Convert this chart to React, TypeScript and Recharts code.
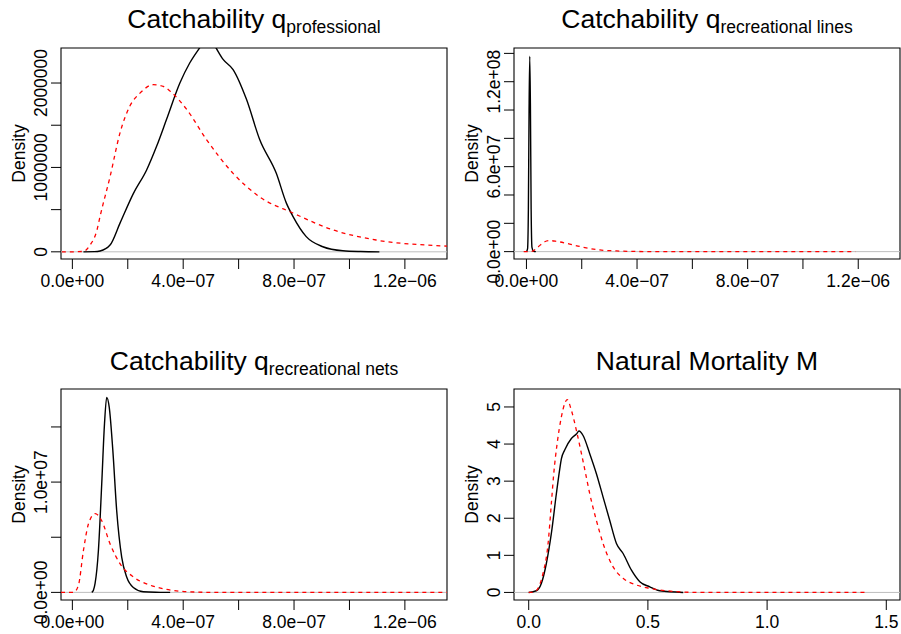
import React from 'react';
import { LineChart, Line, XAxis, YAxis, ReferenceLine, ReferenceArea } from 'recharts';

// panel 1: catchability q professional
const profPostX = [0.04e-6, 0.08e-6, 0.1e-6, 0.136e-6, 0.172e-6, 0.22e-6, 0.268e-6, 0.304e-6, 0.34e-6, 0.388e-6, 0.424e-6, 0.46e-6, 0.49e-6, 0.514e-6, 0.544e-6, 0.58e-6, 0.628e-6, 0.676e-6, 0.736e-6, 0.772e-6, 0.796e-6, 0.844e-6, 0.904e-6, 0.976e-6, 1.04e-6, 1.108e-6];
const profPostY = [0, 0.002e6, 0.01e6, 0.08e6, 0.34e6, 0.69e6, 0.97e6, 1.25e6, 1.57e6, 2.0e6, 2.24e6, 2.42e6, 2.56e6, 2.44e6, 2.28e6, 2.16e6, 1.81e6, 1.33e6, 0.93e6, 0.58e6, 0.42e6, 0.18e6, 0.06e6, 0.012e6, 0.003e6, 0];
const profPriorX = [-0.038e-6, 0, 0.04e-6, 0.064e-6, 0.089e-6, 0.1e-6, 0.136e-6, 0.172e-6, 0.208e-6, 0.244e-6, 0.292e-6, 0.328e-6, 0.364e-6, 0.412e-6, 0.484e-6, 0.58e-6, 0.676e-6, 0.796e-6, 0.94e-6, 1.096e-6, 1.336e-6, 1.4e-6];
const profPriorY = [0, 0, 0.005e6, 0.08e6, 0.26e6, 0.42e6, 0.89e6, 1.41e6, 1.73e6, 1.88e6, 1.98e6, 1.96e6, 1.87e6, 1.69e6, 1.33e6, 0.93e6, 0.65e6, 0.46e6, 0.26e6, 0.14e6, 0.07e6, 0.06e6];

// panel 2: catchability q recreational lines
const linesPostX = [0, 0.004e-6, 0.007e-6, 0.0095e-6, 0.012e-6, 0.0145e-6, 0.017e-6, 0.02e-6, 0.026e-6, 0.034e-6];
const linesPostY = [0, 0.02e8, 0.3e8, 1.0e8, 1.38e8, 1.0e8, 0.3e8, 0.03e8, 0.002e8, 0];
const linesPriorX = [-0.01e-6, 0.01e-6, 0.02e-6, 0.04e-6, 0.066e-6, 0.084e-6, 0.11e-6, 0.145e-6, 0.205e-6, 0.265e-6, 0.326e-6, 0.4e-6, 0.5e-6, 1.19e-6];
const linesPriorY = [0, 0, 0.02e7, 0.3e7, 0.7e7, 0.78e7, 0.72e7, 0.59e7, 0.31e7, 0.12e7, 0.05e7, 0.01e7, 0, 0];

// panel 3: catchability q recreational nets
const netsPostX = [0.07e-6, 0.076e-6, 0.082e-6, 0.094e-6, 0.106e-6, 0.116e-6, 0.124e-6, 0.133e-6, 0.146e-6, 0.16e-6, 0.178e-6, 0.196e-6, 0.22e-6, 0.256e-6, 0.3e-6, 0.353e-6];
const netsPostY = [0, 0.02e7, 0.081e7, 0.38e7, 0.985e7, 1.53e7, 1.768e7, 1.68e7, 1.29e7, 0.74e7, 0.32e7, 0.14e7, 0.045e7, 0.006e7, 0.001e7, 0];
const netsPriorX = [-0.041e-6, 0.005e-6, 0.022e-6, 0.04e-6, 0.058e-6, 0.082e-6, 0.106e-6, 0.136e-6, 0.172e-6, 0.22e-6, 0.28e-6, 0.34e-6, 0.413e-6, 0.52e-6, 1.36e-6];
const netsPriorY = [0, 0, 0.066e7, 0.38e7, 0.62e7, 0.714e7, 0.65e7, 0.44e7, 0.26e7, 0.14e7, 0.066e7, 0.027e7, 0.006e7, 0, 0];

// panel 4: natural mortality M
const mPostX = [0, 0.032, 0.053, 0.074, 0.095, 0.116, 0.13, 0.137, 0.151, 0.179, 0.2, 0.211, 0.228, 0.256, 0.284, 0.312, 0.34, 0.368, 0.396, 0.431, 0.466, 0.508, 0.55, 0.648];
const mPostY = [0, 0.045, 0.24, 0.78, 1.59, 2.66, 3.32, 3.6, 3.84, 4.15, 4.27, 4.35, 4.23, 3.74, 3.2, 2.57, 1.94, 1.32, 1.05, 0.6, 0.29, 0.15, 0.045, 0];
const mPriorX = [0, 0.025, 0.039, 0.06, 0.081, 0.095, 0.105, 0.119, 0.137, 0.151, 0.161, 0.179, 0.2, 0.221, 0.235, 0.256, 0.284, 0.312, 0.354, 0.396, 0.452, 0.508, 0.578, 0.718, 1.418];
const mPriorY = [0, 0.02, 0.11, 0.51, 1.3, 2.4, 3.2, 4.0, 4.73, 5.09, 5.2, 4.91, 4.37, 3.75, 3.32, 2.66, 1.94, 1.32, 0.69, 0.38, 0.2, 0.11, 0.045, 0, 0];

// ticks
const qTicks = [0, 2e-7, 4e-7, 6e-7, 8e-7, 1e-6, 1.2e-6];
const qTickLabels = ['0.0e+00', '', '4.0e\u221207', '', '8.0e\u221207', '', '1.2e\u221206'];
const mTicks = [0, 0.5, 1, 1.5];
const mTickLabels = ['0.0', '0.5', '1.0', '1.5'];
const profYTicks = [0, 5e5, 1e6, 1.5e6, 2e6];
const profYLabels = ['0', '', '1000000', '', '2000000'];
const linesYTicks = [0, 2e7, 4e7, 6e7, 8e7, 1e8, 1.2e8, 1.4e8];
const linesYLabels = ['0.0e+00', '', '', '6.0e+07', '', '', '1.2e+08', ''];
const netsYTicks = [0, 5e6, 1e7, 1.5e7];
const netsYLabels = ['0.0e+00', '', '1.0e+07', ''];
const mYTicks = [0, 1, 2, 3, 4, 5];
const mYLabels = ['0', '1', '2', '3', '4', '5'];

const toPts = (xs: number[], ys: number[]) => xs.map((x, i) => ({ x, y: ys[i] }));

const FONT = '"Liberation Sans", Arial, Helvetica, sans-serif';
const LABEL_SIZE = 17.5;

const XTick = (labels: string[]) => (props: any) => {
  const { x, y, index } = props;
  const t = labels[index];
  if (!t) return <g />;
  return (
    <text x={x} y={y + 14} textAnchor="middle" fontSize={LABEL_SIZE} fontFamily={FONT} fill="#000">{t}</text>
  );
};

const YTick = (labels: string[]) => (props: any) => {
  const { x, y, index } = props;
  const t = labels[index];
  if (!t) return <g />;
  return (
    <text transform={`translate(${x},${y}) rotate(-90)`} textAnchor="middle" fontSize={LABEL_SIZE} fontFamily={FONT} fill="#000">{t}</text>
  );
};

const DensityLabel = (props: any) => {
  const vb = props.viewBox || { x: 0, y: 0, width: 0, height: 0 };
  const x = vb.x + vb.width - 36;
  const y = vb.y + vb.height / 2;
  return (
    <text transform={`translate(${x},${y}) rotate(-90)`} textAnchor="middle" fontSize={LABEL_SIZE} fontFamily={FONT} fill="#000">Density</text>
  );
};

interface PanelProps {
  left: number;
  top: number;
  width: number;
  height: number;
  margin: { top: number; right: number; bottom: number; left: number };
  yWidth: number;
  xHeight: number;
  xDomain: [number, number];
  yDomain: [number, number];
  xTicks: number[];
  xLabels: string[];
  yTicks: number[];
  yLabels: string[];
  post: { x: number; y: number }[];
  prior: { x: number; y: number }[];
}

const Panel = (p: PanelProps) => (
  <div style={{ position: 'absolute', left: p.left, top: p.top }}>
    <LineChart width={p.width} height={p.height} margin={p.margin}>
      <XAxis
        type="number"
        dataKey="x"
        domain={p.xDomain}
        allowDataOverflow
        ticks={p.xTicks}
        interval={0}
        height={p.xHeight}
        axisLine={false}
        tickLine={{ stroke: '#000', strokeWidth: 1 }}
        tickSize={10}
        tickMargin={4}
        tick={XTick(p.xLabels)}
      />
      <YAxis
        type="number"
        dataKey="y"
        domain={p.yDomain}
        allowDataOverflow
        ticks={p.yTicks}
        interval={0}
        width={p.yWidth}
        axisLine={false}
        tickLine={{ stroke: '#000', strokeWidth: 1 }}
        tickSize={10}
        tickMargin={4}
        tick={YTick(p.yLabels)}
        label={<DensityLabel />}
      />
      <ReferenceArea
        x1={p.xDomain[0]}
        x2={p.xDomain[1]}
        y1={p.yDomain[0]}
        y2={p.yDomain[1]}
        fill="none"
        stroke="#000"
        strokeWidth={1.1}
        fillOpacity={0}
        ifOverflow="visible"
      />
      <ReferenceLine y={0} stroke="#bebebe" strokeWidth={1} />
      <Line
        data={p.post}
        dataKey="y"
        type="monotone"
        stroke="#000"
        strokeWidth={1.4}
        dot={false}
        activeDot={false}
        isAnimationActive={false}
      />
      <Line
        data={p.prior}
        dataKey="y"
        type="monotone"
        stroke="#ff0000"
        strokeWidth={1.3}
        strokeDasharray="4 4"
        dot={false}
        activeDot={false}
        isAnimationActive={false}
      />
    </LineChart>
  </div>
);

const Title = ({ x, y, main, sub }: { x: number; y: number; main: string; sub?: string }) => (
  <text x={x} y={y} textAnchor="middle" fontSize={26.5} fontFamily={FONT} fill="#000">
    {main}
    {sub ? <tspan fontSize={17.5} dy={5}>{sub}</tspan> : null}
  </text>
);

export default function App() {
  return (
    <div style={{ position: 'absolute', left: 0, top: 0, width: 901, height: 634, background: '#fff', overflow: 'hidden' }}>
      <Panel
        left={0} top={0} width={450} height={317}
        margin={{ top: 48, right: 3, bottom: 0, left: 0 }}
        yWidth={61} xHeight={58}
        xDomain={[-0.041e-6, 1.352e-6]} yDomain={[-0.085e6, 2.415e6]}
        xTicks={qTicks} xLabels={qTickLabels}
        yTicks={profYTicks} yLabels={profYLabels}
        post={toPts(profPostX, profPostY)} prior={toPts(profPriorX, profPriorY)}
      />
      <Panel
        left={450} top={0} width={451} height={317}
        margin={{ top: 48, right: 1, bottom: 0, left: 0 }}
        yWidth={64} xHeight={58}
        xDomain={[-0.045e-6, 1.351e-6]} yDomain={[-0.052e8, 1.438e8]}
        xTicks={qTicks} xLabels={qTickLabels}
        yTicks={linesYTicks} yLabels={linesYLabels}
        post={toPts(linesPostX, linesPostY)} prior={toPts(linesPriorX, linesPriorY)}
      />
      <Panel
        left={0} top={317} width={450} height={317}
        margin={{ top: 72, right: 3, bottom: 0, left: 0 }}
        yWidth={61} xHeight={34}
        xDomain={[-0.041e-6, 1.352e-6]} yDomain={[-0.069e7, 1.844e7]}
        xTicks={qTicks} xLabels={qTickLabels}
        yTicks={netsYTicks} yLabels={netsYLabels}
        post={toPts(netsPostX, netsPostY)} prior={toPts(netsPriorX, netsPriorY)}
      />
      <Panel
        left={450} top={317} width={451} height={317}
        margin={{ top: 72, right: 1, bottom: 0, left: 0 }}
        yWidth={64} xHeight={34}
        xDomain={[-0.0617, 1.5575]} yDomain={[-0.204, 5.484]}
        xTicks={mTicks} xLabels={mTickLabels}
        yTicks={mYTicks} yLabels={mYLabels}
        post={toPts(mPostX, mPostY)} prior={toPts(mPriorX, mPriorY)}
      />
      <svg width={901} height={634} style={{ position: 'absolute', left: 0, top: 0, pointerEvents: 'none' }}>
        <Title x={254} y={28} main="Catchability q" sub="professional" />
        <Title x={707} y={28} main="Catchability q" sub="recreational lines" />
        <Title x={254} y={370} main="Catchability q" sub="recreational nets" />
        <Title x={707} y={370} main="Natural Mortality M" />
      </svg>
    </div>
  );
}
